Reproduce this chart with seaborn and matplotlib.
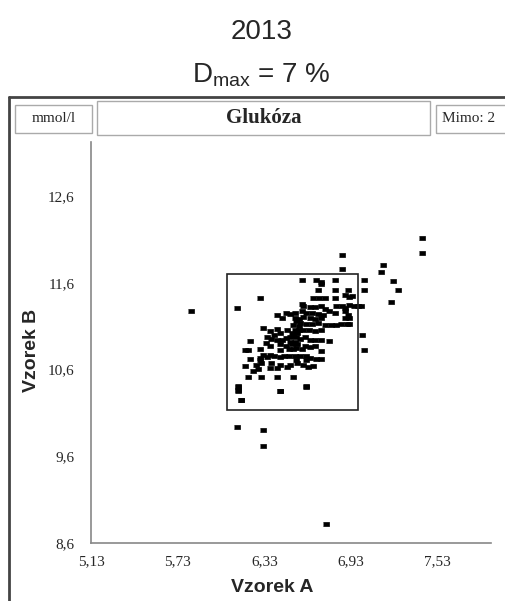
import pandas as pd
import matplotlib.pyplot as plt
import seaborn as sns
from matplotlib.patches import Rectangle
from matplotlib.lines import Line2D

# hodnoty (mmol/l)
vzorek_a = [
    5.82, 7.42, 7.42, 7.15, 7.14, 7.22, 7.26, 7.21, 6.76, 6.14, 6.32, 6.32,
    6.87, 6.87, 7.02, 7.02, 7.01, 7.02,
    6.59, 6.69, 6.72, 6.72, 6.82,
    6.70, 6.82, 6.91,
    6.30, 6.67, 6.71, 6.75, 6.82, 6.89, 6.92, 6.94,
    6.14, 6.59, 6.60, 6.65, 6.68, 6.72, 6.75, 6.78, 6.83, 6.87, 6.89, 6.92, 6.95, 6.98, 7.00,
    6.42, 6.48, 6.51, 6.54, 6.59, 6.62, 6.66, 6.70, 6.74, 6.82, 6.89, 6.91,
    6.45, 6.54, 6.57, 6.60, 6.65, 6.68, 6.72, 6.89, 6.92,
    6.55, 6.58, 6.62, 6.66, 6.70, 6.75, 6.79, 6.83, 6.86, 6.90, 6.92, 6.53, 6.57,
    6.32, 6.42, 6.49, 6.54, 6.57, 6.60, 6.64, 6.68, 6.72, 6.52, 6.56,
    6.37, 6.40, 6.44, 6.35, 6.38, 6.45, 6.48, 6.51, 6.53, 6.55, 6.58, 6.61, 6.65, 6.68,
    6.72, 6.78, 6.54, 6.51, 6.23, 6.34, 6.42,
    6.37, 6.44, 6.48, 6.52, 6.56, 6.61, 6.65, 6.68, 6.44, 6.50, 6.53, 6.55, 6.59, 6.20,
    6.22, 6.30, 6.72,
    6.32, 6.37, 6.40, 6.44, 6.47, 6.50, 6.54, 6.58, 6.62, 6.65, 6.69, 6.72, 6.23, 6.30,
    6.35, 6.55, 6.62, 6.30,
    6.20, 6.27, 6.31, 6.38, 6.44, 6.51, 6.56, 6.60, 6.67, 6.42, 6.49, 6.63, 6.25, 6.29, 6.37,
    6.22, 6.31, 6.42, 6.53,
    6.15, 6.15, 6.17, 6.62, 6.44, 6.15, 6.15, 6.17, 6.44, 6.62,
]
vzorek_b = [
    11.28, 12.12, 11.94, 11.81, 11.73, 11.62, 11.52, 11.38, 8.82, 9.94, 9.90, 9.72,
    11.92, 11.76, 11.63, 11.52, 11.00, 10.83,
    11.63, 11.63, 11.61, 11.59, 11.63,
    11.52, 11.52, 11.52,
    11.43, 11.43, 11.43, 11.43, 11.43, 11.46, 11.44, 11.45,
    11.31, 11.35, 11.33, 11.32, 11.32, 11.33, 11.30, 11.27, 11.33, 11.33, 11.31, 11.34, 11.33, 11.33, 11.33,
    11.23, 11.25, 11.24, 11.25, 11.27, 11.25, 11.25, 11.24, 11.23, 11.25, 11.27, 11.23,
    11.19, 11.19, 11.18, 11.21, 11.19, 11.18, 11.19, 11.19, 11.19,
    11.16, 11.14, 11.13, 11.13, 11.14, 11.11, 11.11, 11.11, 11.12, 11.12, 11.12, 11.11, 11.10,
    11.08, 11.07, 11.06, 11.06, 11.05, 11.06, 11.06, 11.04, 11.06, 11.02, 11.02,
    11.04, 11.00, 11.02, 10.97, 10.95, 10.94, 10.96, 10.97, 10.99, 10.97, 10.95, 10.97, 10.94, 10.94,
    10.94, 10.93, 10.92, 10.92, 10.93, 10.91, 10.94,
    10.87, 10.89, 10.87, 10.89, 10.89, 10.87, 10.86, 10.87, 10.83, 10.84, 10.84, 10.85, 10.84, 10.83,
    10.83, 10.84, 10.81,
    10.77, 10.77, 10.75, 10.74, 10.75, 10.75, 10.76, 10.75, 10.76, 10.73, 10.72, 10.72, 10.72, 10.73,
    10.74, 10.71, 10.71, 10.71,
    10.64, 10.65, 10.67, 10.67, 10.65, 10.65, 10.67, 10.65, 10.64, 10.62, 10.63, 10.63, 10.58, 10.60, 10.62,
    10.51, 10.51, 10.51, 10.51,
    10.41, 10.36, 10.25, 10.41, 10.35, 10.40, 10.35, 10.25, 10.35, 10.40,
]

# hranice akceptovatelnosti (7 %)
box_a = [6.07, 6.98]
box_b = [10.13, 11.70]

x_ticks = [5.13, 5.73, 6.33, 6.93, 7.53]
y_ticks = [8.6, 9.6, 10.6, 11.6, 12.6]

df = pd.DataFrame({"Vzorek A": vzorek_a, "Vzorek B": vzorek_b})

sns.set_style("white")
fig = plt.figure(figsize=(5.06, 6.01), dpi=100)
ax = fig.add_axes([0.180, 0.097, 0.79, 0.666])

dash = [(-1, -0.62), (1, -0.62), (1, 0.62), (-1, 0.62)]
sns.scatterplot(data=df, x="Vzorek A", y="Vzorek B", marker=dash, s=14,
                color="black", edgecolor="black", linewidth=0.5, ax=ax)

ax.add_patch(Rectangle((box_a[0], box_b[0]), box_a[1] - box_a[0], box_b[1] - box_b[0],
                       fill=False, edgecolor="#222222", linewidth=1.2))

ax.set_xlim(5.13, 7.90)
ax.set_ylim(8.6, 13.22)
ax.set_xticks(x_ticks)
ax.set_yticks(y_ticks)
ax.set_xticklabels([f"{v:.2f}".replace(".", ",") for v in x_ticks],
                   family="Liberation Serif", fontsize=11)
ax.set_yticklabels([f"{v:.1f}".replace(".", ",") for v in y_ticks],
                   family="Liberation Serif", fontsize=11)
ax.tick_params(axis="x", direction="out", length=4, width=1, color="#888888", pad=5)
ax.tick_params(axis="y", direction="out", length=5, width=1, color="#888888", pad=7)

for side in ["top", "right"]:
    ax.spines[side].set_visible(False)
for side in ["left", "bottom"]:
    ax.spines[side].set_color("#888888")
    ax.spines[side].set_linewidth(1.2)

ax.set_xlabel("Vzorek A", fontsize=14, fontweight="bold", family="Liberation Sans")
ax.set_ylabel("Vzorek B", fontsize=14, fontweight="bold", family="Liberation Sans")
ax.xaxis.set_label_coords(0.4525, -0.09)
ax.yaxis.set_label_coords(-0.127, 0.48)

# nadpisy
fig.text(0.516, 0.947, "2013", ha="center", va="center", fontsize=20,
         family="Liberation Sans")
fig.text(0.516, 0.875, r"$\mathregular{D_{max}}$ = 7 %", ha="center", va="center",
         fontsize=20, family="Liberation Sans")

# rámeček a hlavička
fig.add_artist(Line2D([0.0178, 1.0], [0.8386, 0.8386], transform=fig.transFigure,
                      color="#444444", linewidth=2))
fig.add_artist(Line2D([0.0178, 0.0178], [0.0, 0.8386], transform=fig.transFigure,
                      color="#444444", linewidth=2))

headers = [("mmol/l", 0.030, 0.182, 0.7787, 0.8253, 11, "normal"),
           ("Glukóza", 0.192, 0.850, 0.7754, 0.8319, 15, "bold"),
           ("Mimo: 2", 0.862, 1.06, 0.7787, 0.8253, 11, "normal")]
for label, x0, x1, y0, y1, fs, fw in headers:
    fig.add_artist(Rectangle((x0, y0), x1 - x0, y1 - y0, transform=fig.transFigure,
                             fill=False, edgecolor="#aaaaaa", linewidth=1))
    fig.text(x0 + 0.012 if label == "Mimo: 2" else (x0 + x1) / 2, (y0 + y1) / 2, label,
             ha="left" if label == "Mimo: 2" else "center", va="center",
             fontsize=fs, fontweight=fw, family="Liberation Serif")

fig.savefig("out.png", dpi=100, facecolor="white")
